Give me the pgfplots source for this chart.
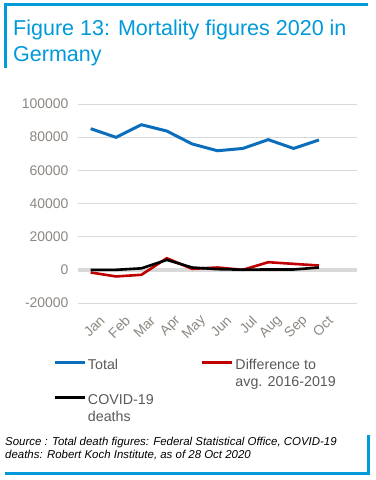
\documentclass[border=0pt]{standalone}
\usepackage{pgfplots}
\pgfplotsset{compat=1.18}
\usepackage{fontspec}
\setmainfont{Liberation Sans}
\definecolor{titleblue}{HTML}{0099DA}
\definecolor{totblue}{HTML}{0A6EBD}
\definecolor{diffred}{HTML}{C00000}
\definecolor{tickgray}{HTML}{8C8780}
\definecolor{leggray}{HTML}{595959}
\definecolor{gridgray}{HTML}{D9D9D9}
\begin{document}
\begin{tikzpicture}[x=1bp,y=1bp]
\path[use as bounding box] (0,0) rectangle (375,480);
% frame
\draw[titleblue, line width=3bp] (5,412) -- (5,475) -- (368,475);
\draw[titleblue, line width=3bp] (5,6) -- (368,6) -- (368,45);
\node[anchor=base west, text=titleblue, font=\fontsize{21.6}{26}\selectfont, inner sep=0pt] at (13,444) {Figure 13: Mortality figures 2020 in};
\node[anchor=base west, text=titleblue, font=\fontsize{21.6}{26}\selectfont, inner sep=0pt] at (13,418) {Germany};
\node[anchor=base west, font=\fontsize{11.5}{13}\selectfont\itshape, inner sep=0pt] at (5,34) {Source : Total death figures: Federal Statistical Office, COVID-19};
\node[anchor=base west, font=\fontsize{11.5}{13}\selectfont\itshape, inner sep=0pt] at (5,21) {deaths: Robert Koch Institute, as of 28 Oct 2020};
\begin{axis}[
  at={(78bp,177bp)}, anchor=south west,
  scale only axis, width=279bp, height=199bp,
  xmin=-0.5, xmax=10.5, ymin=-20000, ymax=100000,
  ytick={-20000,0,20000,40000,60000,80000,100000},
  yticklabels={-20000,0,20000,40000,60000,80000,100000},
  scaled y ticks=false,
  xtick={0,...,9},
  xticklabels={Jan,Feb,Mar,Apr,May,Jun,Jul,Aug,Sep,Oct},
  axis line style={draw=none},
  major tick length=0pt,
  ymajorgrids, grid style={gridgray, line width=0.8bp},
  tick label style={text=tickgray, font=\fontsize{14}{15}\selectfont},
  yticklabel style={xshift=-6bp},
  xticklabel style={xshift=14bp, yshift=-13bp, rotate=45, anchor=east},
  /pgf/number format/assume math mode=true,
  legend style={at={(-28bp,-52bp)}, anchor=north west, draw=none, fill=none,
    legend columns=2, font=\fontsize{14.3}{17}\selectfont, text=leggray,
    cells={anchor=north west, align=left},
    /tikz/every even column/.append style={column sep=45bp},
    row sep=2bp},
  legend image code/.code={\draw[#1, line width=2.8bp] (0bp,-5bp) -- (30bp,-5bp);},
  clip=false,
]
\addplot[gridgray, line width=4bp, forget plot] coordinates {(-0.5,0) (10.5,0)};
\addplot[totblue, line width=3bp] coordinates {
(0,85100) (1,79900) (2,87500) (3,83700) (4,75900) (5,71800) (6,73200) (7,78500) (8,73200) (9,78300)};
\addlegendentry{Total}
\addplot[diffred, line width=2.6bp] coordinates {
(0,-1600) (1,-4000) (2,-3000) (3,7000) (4,600) (5,1400) (6,0) (7,4600) (8,3600) (9,2600)};
\addlegendentry{Difference to\\avg. 2016-2019}
\addplot[black, line width=2.6bp] coordinates {
(0,0) (1,0) (2,900) (3,6000) (4,1400) (5,400) (6,100) (7,200) (8,200) (9,1400)};
\addlegendentry{COVID-19\\deaths}
\end{axis}
\end{tikzpicture}
\end{document}
